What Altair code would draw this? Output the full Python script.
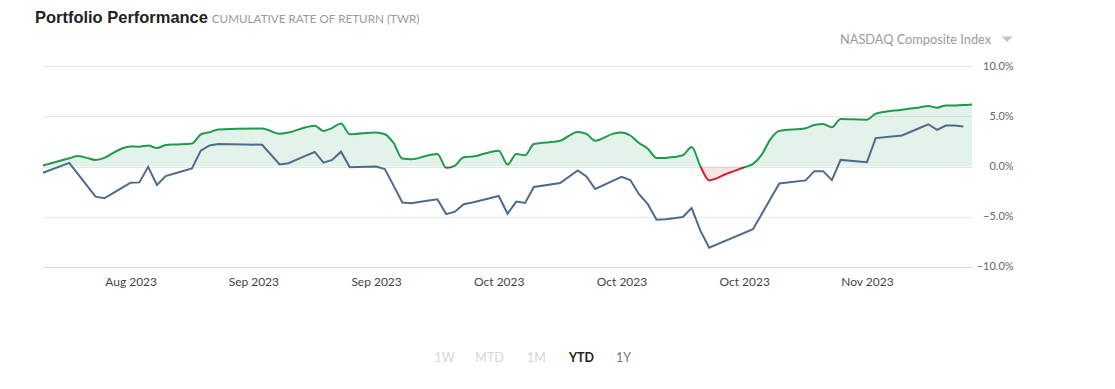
import altair as alt
import pandas as pd

# ---- data ----
dates = [
    "2023-08-10", "2023-08-13", "2023-08-14", "2023-08-15", "2023-08-16", "2023-08-17",
    "2023-08-18", "2023-08-19", "2023-08-20", "2023-08-21", "2023-08-22", "2023-08-23",
    "2023-08-24", "2023-08-25", "2023-08-27", "2023-08-28", "2023-08-29", "2023-08-30",
    "2023-09-04", "2023-09-06", "2023-09-07", "2023-09-09", "2023-09-10", "2023-09-11",
    "2023-09-12", "2023-09-13", "2023-09-14", "2023-09-17", "2023-09-18", "2023-09-19",
    "2023-09-20", "2023-09-21", "2023-09-23", "2023-09-24", "2023-09-25", "2023-09-26",
    "2023-09-27", "2023-09-28", "2023-10-01", "2023-10-02", "2023-10-03", "2023-10-04",
    "2023-10-05", "2023-10-08", "2023-10-10", "2023-10-11", "2023-10-12", "2023-10-14",
    "2023-10-15", "2023-10-16", "2023-10-17", "2023-10-18", "2023-10-19", "2023-10-20",
    "2023-10-21", "2023-10-22", "2023-10-23", "2023-10-24", "2023-10-25", "2023-10-27",
    "2023-10-29", "2023-10-30",
    "2023-10-31", "2023-11-01", "2023-11-02", "2023-11-05", "2023-11-06", "2023-11-07",
    "2023-11-08", "2023-11-09", "2023-11-12", "2023-11-13", "2023-11-16", "2023-11-18",
    "2023-11-19", "2023-11-20", "2023-11-21", "2023-11-22", "2023-11-23", "2023-11-24",
]
portfolio = [
    0.10, 0.82, 1.05, 0.86, 0.66, 0.86,
    1.35, 1.80, 2.00, 1.97, 2.10, 1.84,
    2.14, 2.20, 2.30, 3.19, 3.42, 3.68,
    3.78, 3.26, 3.39, 3.91, 4.05, 3.55,
    3.85, 4.28, 3.22, 3.39, 3.22, 2.34,
    0.79, 0.72, 1.12, 1.25, -0.13, 0.10,
    0.92, 0.99, 1.58, 0.20, 1.25, 1.12,
    2.24, 2.57, 3.45, 3.26, 2.57, 3.25,
    3.39, 3.09, 2.34, 1.78, 0.86, 0.86,
    0.95, 1.12, 1.94, 0.03, -1.38, -0.72,
    -0.07, 0.26,
    1.18, 2.73, 3.55, 3.82, 4.14, 4.24,
    3.91, 4.74, 4.67, 5.26, 5.66, 5.89,
    6.02, 5.86, 6.09, 6.09, 6.12, 6.18,
]
nasdaq = [
    -0.62, 0.36, -0.76, -1.88, -3.00, -3.16,
    -2.64, -2.13, -1.61, -1.58, -0.03, -1.84,
    -0.95, -0.70, -0.20, 1.58, 2.10, 2.24,
    2.17, 0.20, 0.33, 1.08, 1.45, 0.39,
    0.66, 1.48, -0.07, 0.00, -0.26, -1.90,
    -3.59, -3.65, -3.39, -3.26, -4.74, -4.50,
    -3.75, -3.59, -2.93, -4.70, -3.49, -3.62,
    -2.04, -1.64, -0.39, -0.99, -2.24, -1.43,
    -1.02, -1.35, -2.76, -3.75, -5.30, -5.26,
    -5.15, -5.03, -4.14, -6.38, -8.09, None,
    None, -6.25,
    -4.73, -3.20, -1.68, -1.38, -0.46, -0.46,
    -1.35, 0.66, 0.43, 2.83, 3.09, 3.84,
    4.21, 3.65, 4.08, 4.08, 3.98, None,
]
x_tick_dates = [(2023, 8, 20), (2023, 9, 3), (2023, 9, 17), (2023, 10, 1),
                (2023, 10, 15), (2023, 10, 29), (2023, 11, 12)]
x_domain_dates = [(2023, 8, 10), (2023, 11, 24)]
y_ticks = [-10, -5, 0, 5, 10]
range_buttons = ["1W", "MTD", "1M", "YTD", "1Y"]

df = pd.DataFrame({"date": dates, "portfolio": portfolio, "nasdaq": nasdaq})

FONT = "Lato"
TITLE_FONT = "Liberation Sans"
GREEN = "#1e9a4c"
RED = "#d3212f"
BLUE = "#4e6a8d"


def dt(t):
    return alt.DateTime(year=t[0], month=t[1], date=t[2], utc=True)


vmax, vmin = max(portfolio), min(portfolio)
off = vmax / (vmax - vmin)


def split_gradient(c_pos, c_neg):
    return alt.LinearGradient(
        gradient="linear", x1=0, x2=0, y1=0, y2=1,
        stops=[
            alt.GradientStop(color=c_pos, offset=0),
            alt.GradientStop(color=c_pos, offset=off),
            alt.GradientStop(color=c_neg, offset=off),
            alt.GradientStop(color=c_neg, offset=1),
        ],
    )


x_enc = alt.X(
    "date:T",
    title=None,
    scale=alt.Scale(type="utc", domain=[dt(d) for d in x_domain_dates]),
    axis=alt.Axis(
        values=[dt(d) for d in x_tick_dates], format="%b %Y", grid=False,
        ticks=False, domain=True, domainColor="#d6dce2", labelColor="#444444",
        labelFont=FONT, labelFontSize=12, labelPadding=10,
    ),
)
y_scale = alt.Scale(domain=[-10, 10], nice=False)
y_axis = alt.Axis(
    orient="right", values=y_ticks, labelExpr="format(datum.value, '.1f') + '%'",
    grid=True, gridColor="#e6e6e6", ticks=False, tickSize=0, domain=False,
    labelAlign="right", labelPadding=41, labelColor="#666666", labelFont=FONT,
    labelFontSize=11, labelBaseline="middle",
)

base = alt.Chart(df)

area = base.mark_area(
    interpolate="monotone", fill=split_gradient(GREEN, RED), fillOpacity=0.12
).encode(x=x_enc, y=alt.Y("portfolio:Q", scale=y_scale, axis=y_axis, title=None),
         y2=alt.datum(0))

nasdaq_line = base.transform_filter("isValid(datum.nasdaq)").mark_line(
    color=BLUE, strokeWidth=2
).encode(x=x_enc, y=alt.Y("nasdaq:Q", scale=y_scale))

port_line = base.mark_line(
    interpolate="monotone", stroke=split_gradient(GREEN, RED), strokeWidth=2
).encode(x=x_enc, y=alt.Y("portfolio:Q", scale=y_scale))

one = alt.Data(values=[{}])


def label(text, x, y, size, color, weight="normal", align="left",
          baseline="alphabetic", font=FONT):
    return alt.Chart(one).mark_text(
        text=text, font=font, fontSize=size, color=color, fontWeight=weight,
        align=align, baseline=baseline,
    ).encode(x=alt.value(x), y=alt.value(y))


title = label("Portfolio Performance", -8, -43, 16.5, "#222222", weight="bold",
              font=TITLE_FONT)
subtitle = label("CUMULATIVE RATE OF RETURN (TWR)", 169, -43, 11.7, "#9a9a9a")
bench = label("NASDAQ Composite Index", 949, -26, 12.8, "#9a9a9a", align="right",
              baseline="middle")
caret = alt.Chart(one).mark_point(
    shape="M-1,-0.5L1,-0.5L0,0.5Z", filled=True, size=121, color="#c4c4c4", opacity=1
).encode(x=alt.value(965), y=alt.value(-27))

btn_x = [402, 447, 494, 539, 581]
btn_color = ["#d6d6d6", "#d6d6d6", "#d6d6d6", "#222222", "#777777"]
buttons = [
    label(t, bx, 292, 12.5, c, weight="bold" if t == "YTD" else "normal",
          align="center", baseline="middle")
    for t, bx, c in zip(range_buttons, btn_x, btn_color)
]

chart = alt.layer(
    area, nasdaq_line, port_line, title, subtitle, bench, caret, *buttons
).properties(
    width=930, height=201,
    autosize=alt.AutoSizeParams(type="none"),
    padding={"left": 35, "top": 58, "right": 135, "bottom": 116},
).configure(
    background="white", view=alt.ViewConfig(stroke=None)
)

chart.save("out.html", embed_options={"renderer": "svg", "actions": False})
